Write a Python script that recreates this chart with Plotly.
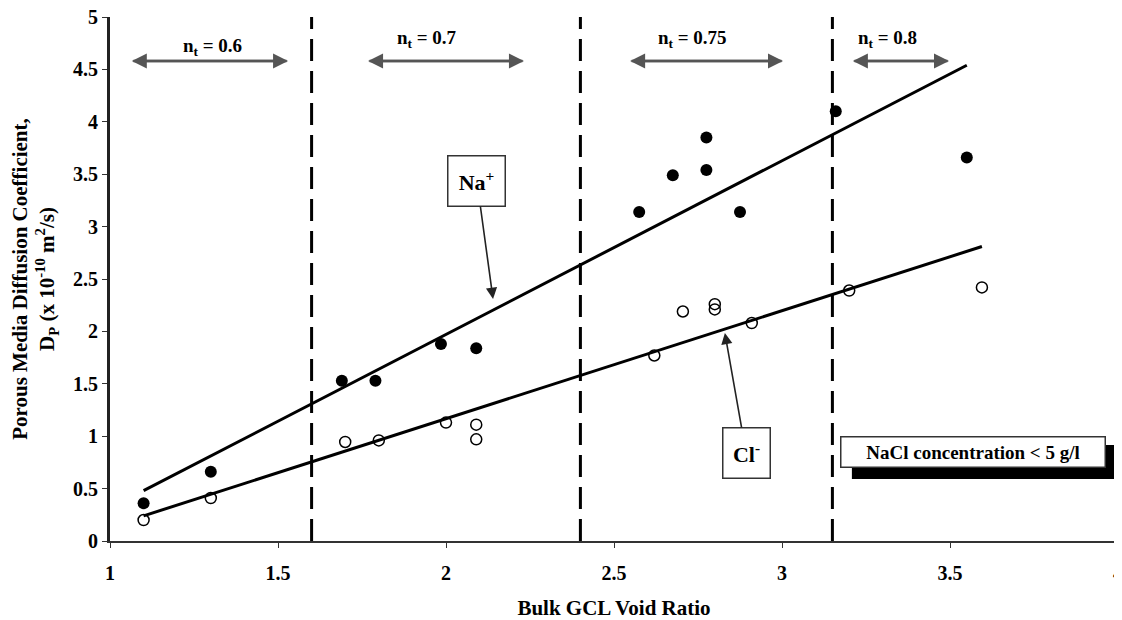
import plotly.graph_objects as go

# Data
na_x = [1.10, 1.30, 1.69, 1.79, 1.985, 2.09, 2.575, 2.675, 2.775, 2.775, 2.875, 3.16, 3.55]
na_y = [0.36, 0.66, 1.53, 1.53, 1.88, 1.84, 3.14, 3.49, 3.85, 3.54, 3.14, 4.10, 3.66]
cl_x = [1.10, 1.30, 1.70, 1.80, 2.00, 2.09, 2.09, 2.62, 2.705, 2.80, 2.80, 2.91, 3.20, 3.595]
cl_y = [0.20, 0.41, 0.945, 0.96, 1.13, 1.11, 0.97, 1.77, 2.19, 2.26, 2.21, 2.08, 2.39, 2.42]

na_fit_x = [1.10, 3.55]
na_fit_y = [0.48, 4.54]
cl_fit_x = [1.10, 3.595]
cl_fit_y = [0.24, 2.81]

boundaries = [1.6, 2.4, 3.15]
nt_labels = ["0.6", "0.7", "0.75", "0.8"]
nt_arrow_left = [1.065, 1.768, 2.548, 3.211]
nt_arrow_right = [1.530, 2.232, 3.003, 3.497]
nt_text_x = [1.304, 1.943, 2.735, 3.315]
nt_text_y = [4.71, 4.79, 4.79, 4.79]
nt_arrow_y = 4.58

x_ticks = [1, 1.5, 2, 2.5, 3, 3.5, 4]
y_ticks = [0, 0.5, 1, 1.5, 2, 2.5, 3, 3.5, 4, 4.5, 5]

FONT = "'Liberation Serif', 'Times New Roman', 'DejaVu Serif', serif"

fig = go.Figure()

fig.add_trace(go.Scatter(x=na_fit_x, y=na_fit_y, mode="lines",
                         line=dict(color="black", width=3), showlegend=False))
fig.add_trace(go.Scatter(x=cl_fit_x, y=cl_fit_y, mode="lines",
                         line=dict(color="black", width=3), showlegend=False))
fig.add_trace(go.Scatter(x=na_x, y=na_y, mode="markers",
                         marker=dict(symbol="circle", size=12, color="black"),
                         showlegend=False))
fig.add_trace(go.Scatter(x=cl_x, y=cl_y, mode="markers",
                         marker=dict(symbol="circle-open", size=11, color="black",
                                     line=dict(width=1.5, color="black")),
                         showlegend=False))

shapes = []
for b in boundaries:
    shapes.append(dict(type="line", xref="x", yref="y", x0=b, x1=b, y0=0, y1=5,
                       line=dict(color="black", width=3, dash="22px,10px")))
# shadow for NaCl box
shapes.append(dict(type="rect", xref="x", yref="y", x0=3.208, x1=3.997, y0=0.592, y1=0.916,
                   fillcolor="black", line=dict(width=0), layer="above"))

annotations = []
for lab, xl, xr, tx, ty in zip(nt_labels, nt_arrow_left, nt_arrow_right, nt_text_x, nt_text_y):
    for a, b in ((xr, xl), (xl, xr)):
        annotations.append(dict(x=a, y=nt_arrow_y, ax=b, ay=nt_arrow_y, xref="x", yref="y",
                                axref="x", ayref="y", text="", showarrow=True,
                                arrowhead=2, arrowsize=1.2, arrowwidth=2.5, arrowcolor="#555555",
                                standoff=0, startstandoff=0))
    annotations.append(dict(x=tx, y=ty, xref="x", yref="y",
                            text="<b>n<sub>t</sub> = " + lab + "</b>", showarrow=False,
                            font=dict(family=FONT, size=19, color="black")))

annotations.append(dict(x=2.14, y=2.31, ax=2.092, ay=3.435, xref="x", yref="y",
                        axref="x", ayref="y", text="<b>Na<sup>+</sup></b>", showarrow=True,
                        arrowhead=2, arrowsize=1.4, arrowwidth=1.6, arrowcolor="#222222",
                        bgcolor="white", bordercolor="#333333", borderwidth=1.5,
                        width=54, height=47, borderpad=1,
                        font=dict(family=FONT, size=22, color="black")))
annotations.append(dict(x=2.83, y=1.985, ax=2.893, ay=0.84, xref="x", yref="y",
                        axref="x", ayref="y", text="<b>Cl<sup>-</sup></b>", showarrow=True,
                        arrowhead=2, arrowsize=1.4, arrowwidth=1.6, arrowcolor="#222222",
                        bgcolor="white", bordercolor="#333333", borderwidth=1.5,
                        width=44, height=47, borderpad=1,
                        font=dict(family=FONT, size=22, color="black")))
annotations.append(dict(x=3.568, y=0.849, xref="x", yref="y", text="<b>NaCl concentration < 5 g/l</b>",
                        showarrow=False, bgcolor="white", bordercolor="#333333", borderwidth=1.5,
                        width=261, height=27, borderpad=1,
                        font=dict(family=FONT, size=19, color="black")))

# page body has an 8px default margin; size the figure so the plot area lands where the reference's does
fig.update_layout(
    width=1114, height=612,
    margin=dict(l=102, r=4, t=9, b=79),
    plot_bgcolor="white", paper_bgcolor="white",
    shapes=shapes, annotations=annotations,
    font=dict(family=FONT, color="black"),
    xaxis=dict(range=[1, 4], tickvals=x_ticks, ticktext=[f"<b>{v:g}</b>" for v in x_ticks],
               showgrid=False, zeroline=False, showline=True, linecolor="#333333", linewidth=2,
               ticks="outside", ticklen=5, tickcolor="#333333", ticklabelstandoff=8,
               automargin=False, ticklabeloverflow="allow",
               tickfont=dict(family=FONT, size=20, color="black"),
               title=dict(text="<b>Bulk GCL Void Ratio</b>", standoff=25,
                          font=dict(family=FONT, size=21, color="black"))),
    yaxis=dict(range=[0, 5], tickvals=y_ticks, ticktext=[f"<b>{v:g}</b>" for v in y_ticks],
               showgrid=False, zeroline=False, showline=True, linecolor="#222222", linewidth=3,
               ticks="outside", ticklen=5, tickcolor="#333333", automargin=False,
               ticklabeloverflow="allow",
               tickfont=dict(family=FONT, size=20, color="black"),
               title=dict(text="<b>Porous Media Diffusion Coefficient,<br>D<sub>P</sub> (x 10<sup>-10</sup> m<sup>2</sup>/s)</b>",
                          standoff=15,
                          font=dict(family=FONT, size=21, color="black"))),
)

fig.write_html("out.html")
